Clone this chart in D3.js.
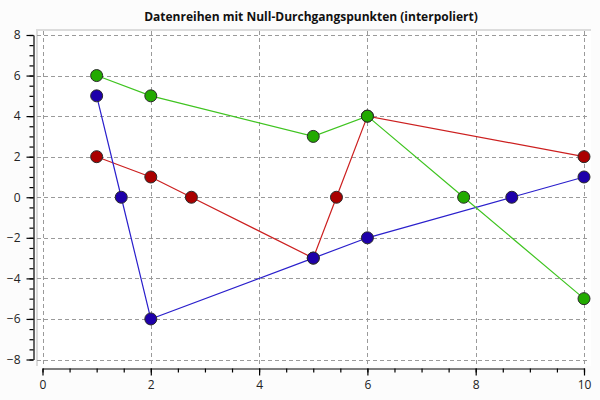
<!DOCTYPE html>
<html>
<head>
<meta charset="utf-8">
<script src="https://d3js.org/d3.v7.min.js"></script>
<style>
  html, body { margin: 0; padding: 0; background: #fcfcfc; }
  svg { display: block; font-family: "Open Sans", "DejaVu Sans", sans-serif; }
</style>
</head>
<body>
<svg id="chart" width="600" height="400"></svg>
<script>
// Series (zero-crossing points interpolated)
const redX = [1, 2, 2.75, 5, 5.4286, 6, 10];
const redY = [2, 1, 0, -3, 0, 4, 2];
const blueX = [1, 1.4545, 2, 5, 6, 8.6667, 10];
const blueY = [5, 0, -6, -3, -2, 0, 1];
const greenX = [1, 2, 5, 6, 7.7778, 10];
const greenY = [6, 5, 3, 4, 0, -5];

const xTicks = [0, 2, 4, 6, 8, 10];
const yTicks = [-8, -6, -4, -2, 0, 2, 4, 6, 8];

const series = [
  { xs: redX, ys: redY, line: '#cc1f1f', fill: '#aa0000' },
  { xs: blueX, ys: blueY, line: '#2a1fcc', fill: '#1e00aa' },
  { xs: greenX, ys: greenY, line: '#3fc420', fill: '#22aa00' }
];

const svg = d3.select('#chart');

const x = d3.scaleLinear().domain([0, 10]).range([42.5, 584]);
const y = d3.scaleLinear().domain([-8, 8]).range([359.5, 35]);

// Plot background + light frame
svg.append('rect')
  .attr('x', 36).attr('y', 29).attr('width', 555).attr('height', 337)
  .attr('fill', '#ffffff');
svg.append('path')
  .attr('d', 'M37,366V30H591')
  .attr('fill', 'none').attr('stroke', '#dcdcdc').attr('stroke-width', 2);

// Grid
const grid = svg.append('g')
  .attr('stroke', '#9a9a9a').attr('stroke-width', 1).attr('stroke-dasharray', '4,3');
grid.selectAll('line.h').data(yTicks).enter().append('line')
  .attr('x1', 37).attr('x2', 587)
  .attr('y1', d => Math.round(y(d)) + 0.5).attr('y2', d => Math.round(y(d)) + 0.5);
grid.selectAll('line.v').data(xTicks).enter().append('line')
  .attr('y1', 31).attr('y2', 365)
  .attr('x1', d => Math.round(x(d)) + 0.5).attr('x2', d => Math.round(x(d)) + 0.5);

// Axes
const xMinor = d3.range(0, 10.01, 0.5);
const yMinor = d3.range(-8, 8.01, 0.5);

const xAxisG = svg.append('g').attr('transform', 'translate(0,368.5)');
xAxisG.append('g')
  .call(d3.axisBottom(x).tickValues(xMinor).tickSize(4).tickSizeOuter(0).tickFormat(''));
xAxisG.append('g')
  .call(d3.axisBottom(x).tickValues(xTicks).tickSize(7).tickSizeOuter(0).tickPadding(5))
  .call(g => g.select('.domain').remove());

const yAxisG = svg.append('g').attr('transform', 'translate(33.5,0)');
yAxisG.append('g')
  .call(d3.axisLeft(y).tickValues(yMinor).tickSize(4).tickSizeOuter(0).tickFormat(''));
yAxisG.append('g')
  .call(d3.axisLeft(y).tickValues(yTicks).tickSize(7).tickSizeOuter(0).tickPadding(6))
  .call(g => g.select('.domain').remove());

svg.selectAll('.tick line').attr('stroke', '#000').attr('stroke-width', 1.2);
svg.selectAll('.domain').attr('stroke', '#000').attr('stroke-width', 1.2);
svg.selectAll('.tick text')
  .attr('fill', '#222')
  .attr('font-size', 12)
  .attr('font-family', '"Open Sans", "DejaVu Sans", sans-serif');

// Lines and markers
const line = d3.line().x(d => x(d[0])).y(d => y(d[1]));
series.forEach(s => {
  const pts = s.xs.map((v, i) => [v, s.ys[i]]);
  svg.append('path')
    .datum(pts)
    .attr('d', line)
    .attr('fill', 'none')
    .attr('stroke', s.line)
    .attr('stroke-width', 1.2);
});
series.forEach(s => {
  const pts = s.xs.map((v, i) => [v, s.ys[i]]);
  svg.append('g').selectAll('circle')
    .data(pts).enter().append('circle')
    .attr('cx', d => x(d[0]))
    .attr('cy', d => y(d[1]))
    .attr('r', 6)
    .attr('fill', s.fill)
    .attr('stroke', '#2a2a2a')
    .attr('stroke-width', 1);
});

// Title
svg.append('text')
  .attr('x', 311).attr('y', 21)
  .attr('text-anchor', 'middle')
  .attr('font-size', 12)
  .attr('font-weight', 700)
  .attr('fill', '#111')
  .text('Datenreihen mit Null-Durchgangspunkten (interpoliert)');
</script>
</body>
</html>
